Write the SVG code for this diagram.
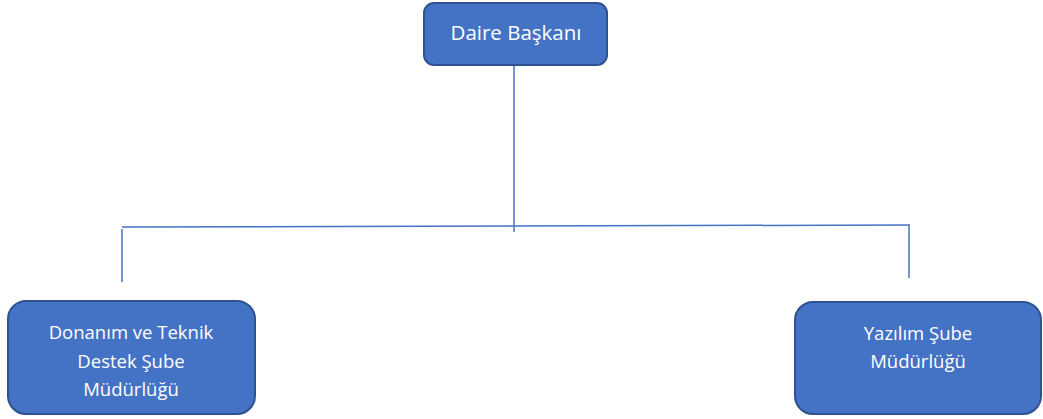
<svg xmlns="http://www.w3.org/2000/svg" width="1043" height="419" viewBox="0 0 1043 419">
<style>
.box{fill:#4472C4;stroke:#2F528F;stroke-width:2}
.t{font-family:"Open Sans","Noto Sans",sans-serif;font-size:18.5px;fill:#fff;text-anchor:middle}
.big{font-size:20.5px}
.c{stroke:#4472C4;stroke-width:1.5;fill:none}
</style>
<rect width="1043" height="419" fill="#fff"/>
<g id="connectors">
<line class="c" x1="514" y1="66" x2="514" y2="232"/>
<line class="c" x1="122" y1="227" x2="910" y2="225"/>
<line class="c" x1="122" y1="229" x2="122" y2="282"/>
<line class="c" x1="909" y1="225" x2="909" y2="278"/>
</g>
<g id="daire-baskani">
<rect class="box" x="424" y="3" width="183" height="62" rx="10"/>
<text class="t big" x="516" y="40">Daire Başkanı</text>
</g>
<g id="donanim">
<rect class="box" x="8" y="301" width="247" height="113" rx="18"/>
<text class="t" x="131" y="339">Donanım ve Teknik</text>
<text class="t" x="131" y="368">Destek Şube</text>
<text class="t" x="131" y="396">Müdürlüğü</text>
</g>
<g id="yazilim">
<rect class="box" x="795" y="302" width="246" height="112" rx="18"/>
<text class="t" x="918" y="340">Yazılım Şube</text>
<text class="t" x="918" y="368">Müdürlüğü</text>
</g>
</svg>
